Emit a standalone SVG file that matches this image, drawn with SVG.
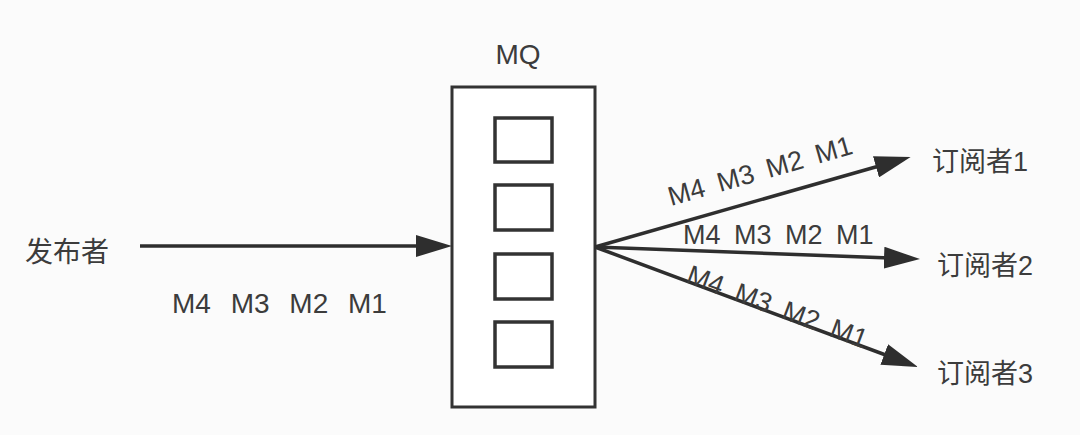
<svg xmlns="http://www.w3.org/2000/svg" width="1080" height="435" viewBox="0 0 1080 435">
<style>
  .t { font-family: "Liberation Sans", "Noto Sans CJK SC", sans-serif; fill: #3c3c3c; }
  .m { font-size: 27px; word-spacing: 6px; }
  .sub { font-size: 27px; }
  .box { fill: #ffffff; stroke: #333333; stroke-width: 3; }
  .slot { fill: #ffffff; stroke: #333333; stroke-width: 3.5; }
  .conn { stroke: #2e2e2e; stroke-width: 3.5; fill: none; marker-end: url(#arrow); }
</style>
<defs>
  <marker id="arrow" markerUnits="userSpaceOnUse" markerWidth="36" markerHeight="22" viewBox="0 0 36 22" refX="26" refY="11" orient="auto">
    <path d="M0,0 L36,11 L0,22 z" fill="#2e2e2e"/>
  </marker>
</defs>
<rect width="1080" height="435" fill="#fbfbfb"/>

<g id="publisher">
  <text class="t" x="25" y="262" font-size="28">发布者</text>
</g>

<g id="mq">
  <text class="t" x="518" y="64" font-size="28" text-anchor="middle">MQ</text>
  <rect class="box" x="452" y="87" width="143" height="320"/>
  <rect class="slot" x="495" y="118" width="57" height="44"/>
  <rect class="slot" x="495" y="185" width="57" height="45"/>
  <rect class="slot" x="495" y="254" width="57" height="45"/>
  <rect class="slot" x="495" y="322" width="57" height="45"/>
</g>

<g id="subscriber1">
  <text class="t sub" x="932" y="171">订阅者1</text>
</g>
<g id="subscriber2">
  <text class="t sub" x="937" y="275">订阅者2</text>
</g>
<g id="subscriber3">
  <text class="t sub" x="937" y="383">订阅者3</text>
</g>

<g id="connectors">
  <line class="conn" x1="140" y1="246" x2="442" y2="246"/>
  <line class="conn" x1="595" y1="247" x2="901" y2="159.7"/>
  <line class="conn" x1="595" y1="247" x2="910" y2="258.7"/>
  <line class="conn" x1="595" y1="247" x2="908.6" y2="363.5"/>
</g>

<g id="labels">
  <text class="t" x="172" y="313" font-size="28" word-spacing="12">M4 M3 M2 M1</text>
  <text class="t m" x="671" y="206" transform="rotate(-16 671 206)">M4 M3 M2 M1</text>
  <text class="t m" x="683" y="244">M4 M3 M2 M1</text>
  <text class="t m" x="685" y="282" transform="rotate(20.5 685 282)">M4 M3 M2 M1</text>
</g>
</svg>
